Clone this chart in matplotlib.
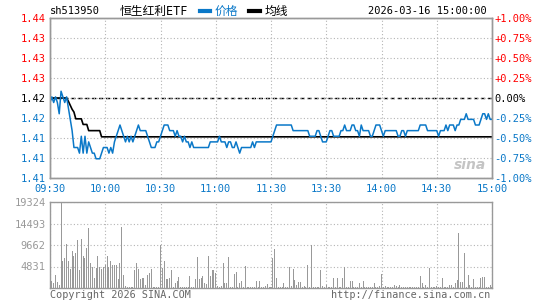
import matplotlib
matplotlib.use("Agg")
import matplotlib.pyplot as plt
from matplotlib.lines import Line2D

# ---------------------------
# Data
# ---------------------------

prev_close = 1.4218

# last price per minute, 09:30 .. 11:30 / 13:00 .. 15:00 (241 points)
price = [
    1.421, 1.422, 1.421, 1.422, 1.421, 1.419, 1.423, 1.422, 1.421, 1.422,
    1.420, 1.418, 1.416, 1.413, 1.413, 1.413, 1.412, 1.415, 1.412, 1.415,
    1.412, 1.414, 1.413, 1.412, 1.412, 1.411, 1.411, 1.411, 1.412, 1.413,
    1.413, 1.413, 1.412, 1.413, 1.412, 1.414, 1.415, 1.416, 1.417, 1.416,
    1.415, 1.414, 1.415, 1.414, 1.415, 1.414, 1.415, 1.416, 1.417, 1.416,
    1.416, 1.416, 1.416, 1.415, 1.414, 1.413, 1.413, 1.413, 1.414, 1.414,
    1.415, 1.416, 1.417, 1.417, 1.417, 1.416, 1.416, 1.416, 1.415, 1.416,
    1.415, 1.415, 1.414, 1.415, 1.414, 1.414, 1.413, 1.414, 1.413, 1.413,
    1.413, 1.413, 1.413, 1.413, 1.413, 1.413, 1.413, 1.414, 1.414, 1.414,
    1.414, 1.414, 1.415, 1.414, 1.414, 1.414, 1.413, 1.414, 1.414, 1.413,
    1.413, 1.414, 1.413, 1.412, 1.413, 1.413, 1.413, 1.413, 1.413, 1.413,
    1.414, 1.413, 1.414, 1.414, 1.414, 1.414, 1.414, 1.414, 1.414, 1.414,
    1.414, 1.415, 1.416, 1.417, 1.417, 1.417, 1.417, 1.417, 1.417, 1.417,
    1.417, 1.417, 1.416, 1.416, 1.416, 1.416, 1.416, 1.416, 1.416, 1.416,
    1.416, 1.415, 1.415, 1.415, 1.415, 1.416, 1.416, 1.415, 1.414, 1.414,
    1.414, 1.415, 1.416, 1.416, 1.415, 1.415, 1.415, 1.415, 1.416, 1.416,
    1.417, 1.416, 1.416, 1.416, 1.417, 1.417, 1.416, 1.416, 1.415, 1.417,
    1.416, 1.416, 1.416, 1.416, 1.415, 1.415, 1.416, 1.417, 1.417, 1.417,
    1.416, 1.415, 1.416, 1.416, 1.416, 1.416, 1.416, 1.416, 1.416, 1.415,
    1.415, 1.416, 1.416, 1.415, 1.416, 1.416, 1.416, 1.416, 1.416, 1.416,
    1.416, 1.417, 1.417, 1.417, 1.417, 1.416, 1.416, 1.416, 1.416, 1.416,
    1.416, 1.415, 1.416, 1.416, 1.416, 1.417, 1.416, 1.417, 1.417, 1.417,
    1.416, 1.417, 1.417, 1.418, 1.418, 1.418, 1.419, 1.418, 1.418, 1.418,
    1.418, 1.417, 1.417, 1.417, 1.418, 1.419, 1.419, 1.418, 1.419, 1.418,
    1.418,
]

# average price line
avg_price = [
    1.4214, 1.4218, 1.4218, 1.4218, 1.4218, 1.4218, 1.4218, 1.4218, 1.4218, 1.4218,
    1.4212, 1.4205, 1.4198, 1.4193, 1.4181, 1.4181, 1.4181, 1.4181, 1.4171, 1.4171,
    1.4171, 1.4160, 1.4160, 1.4160, 1.4160, 1.4160, 1.4160, 1.4160, 1.4149, 1.4149,
] + [1.4149] * 211

# volume per minute
volume = [
    2450, 1530, 1150, 2900, 1380, 770, 19324, 6130, 6670, 9815,
    6130, 4370, 8280, 7130, 7820, 10890, 3990, 11040, 7130, 6670,
    8970, 13420, 5520, 4830, 2150, 4600, 7280, 4830, 4220, 4830,
    5140, 7280, 4830, 6130, 5210, 5210, 5210, 1920, 5670, 13800,
    2900, 380, 300, 300, 300, 300, 3990, 5670, 4370, 1920,
    2300, 2300, 770, 2900, 3300, 4370, 200, 200, 200, 200,
    9580, 4600, 5980, 1920, 1920, 2150, 3990, 300, 1150, 1530,
    2450, 300, 300, 300, 300, 300, 2600, 300, 300, 1920,
    6900, 1920, 2150, 2600, 1150, 1000, 7280, 2600, 3990, 3990,
    3450, 380, 300, 500, 5670, 1150, 1150, 6900, 300, 300,
    3070, 3680, 300, 1150, 1530, 300, 4990, 200, 200, 200,
    200, 200, 1530, 300, 1530, 300, 300, 380, 1000, 300,
    300, 6670, 8740, 2300, 300, 300, 300, 1150, 300, 300,
    4750, 380, 4220, 1690, 770, 1380, 1380, 300, 380, 300,
    5210, 300, 9580, 200, 200, 300, 300, 3990, 500, 300,
    770, 300, 300, 300, 2150, 300, 2150, 300, 300, 2150,
    4750, 300, 300, 1530, 1530, 300, 300, 300, 1150, 300,
    1530, 300, 300, 300, 300, 300, 1150, 300, 300, 500,
    3220, 300, 380, 300, 300, 300, 300, 770, 500, 300,
    770, 300, 300, 300, 300, 300, 300, 300, 300, 300,
    300, 2680, 1150, 300, 770, 300, 4600, 300, 300, 300,
    500, 300, 300, 2150, 300, 300, 300, 770, 600, 300,
    1150, 1690, 12270, 1380, 1380, 7820, 300, 2900, 770, 300,
    1920, 300, 300, 300, 2150, 2450, 2450, 300, 300, 770,
    300,
]

minutes = list(range(len(price)))

time_ticks = [0, 30, 60, 90, 120, 150, 180, 210, 240]
time_labels = ["09:30", "10:00", "10:30", "11:00", "11:30",
               "13:30", "14:00", "14:30", "15:00"]

pct_levels = [-1.0, -0.75, -0.5, -0.25, 0.0, 0.25, 0.5, 0.75, 1.0]
vol_ticks = [4831, 9662, 14493, 19324]

# ---------------------------
# Styling
# ---------------------------

BLUE = "#0a78c8"
RED = "#ff0000"
GRID = "#b4b4b4"
FRAME = "#999999"
MONO = "DejaVu Sans Mono"
W, H = 545, 300


def box(left, top, right, bottom):
    return [left / W, 1 - bottom / H, (right - left) / W, (bottom - top) / H]


def fx(x):
    return x / W


def fy(y):
    return 1 - y / H


fig = plt.figure(figsize=(W / 100, H / 100), dpi=100)
fig.patch.set_facecolor("white")

# ---------------------------
# Price panel
# ---------------------------

ax = fig.add_axes(box(50, 18, 492, 178))
ax.plot(minutes, price, color=BLUE, lw=1.1, zorder=3)
ax.plot(minutes, avg_price, color="black", lw=1.2, zorder=2)
ax.axhline(prev_close, color="black", lw=1, ls=(0, (3, 2)), zorder=1)

levels = [prev_close * (1 + p / 100) for p in pct_levels]
ax.set_xlim(0, 240)
ax.set_ylim(levels[0], levels[-1])
ax.set_yticks(levels)
ax.set_yticklabels([f"{v:.2f}" for v in levels], family=MONO, fontsize=7.5)
for lab, p in zip(ax.get_yticklabels(), pct_levels):
    lab.set_color(RED if p > 0 else ("black" if p == 0 else BLUE))

ax.set_xticks(time_ticks)
ax.set_xticklabels(time_labels, family=MONO, fontsize=7.5, color=BLUE)
ax.tick_params(length=0, pad=3)
ax.tick_params(axis="x", pad=4)
ax.grid(True, color=GRID, ls=(0, (1, 2)), lw=0.8)

ax2 = ax.twinx()
ax2.set_ylim(levels[0], levels[-1])
ax2.set_yticks(levels)
ax2.set_yticklabels([("+" if p > 0 else "") + f"{p:.2f}%" for p in pct_levels],
                    family=MONO, fontsize=7.5)
for lab, p in zip(ax2.get_yticklabels(), pct_levels):
    lab.set_color(RED if p > 0 else ("black" if p == 0 else BLUE))
ax2.tick_params(length=0, pad=1.5)

for a in (ax, ax2):
    for s in a.spines.values():
        s.set_color(FRAME)
        s.set_linewidth(1)

# sina watermark
ax.text(0.95, 0.08, "sina", transform=ax.transAxes, ha="center", va="center",
        fontsize=10, fontstyle="italic", fontweight="bold", color="#c4c4c4", zorder=0)

# ---------------------------
# Volume panel
# ---------------------------

axv = fig.add_axes(box(50, 202, 492, 288))
axv.bar(minutes, volume, width=0.55, color="#999999", zorder=2)
axv.set_xlim(0, 240)
axv.set_ylim(0, vol_ticks[-1])
axv.set_yticks(vol_ticks)
axv.set_yticklabels([str(v) for v in vol_ticks], family=MONO, fontsize=7.5, color="#999999")
axv.set_xticks(time_ticks)
axv.set_xticklabels([])
axv.tick_params(length=0, pad=3)
axv.grid(True, color=GRID, ls=(0, (1, 2)), lw=0.8)
for s in axv.spines.values():
    s.set_color(FRAME)
    s.set_linewidth(1)

# ---------------------------
# Header and footer text
# ---------------------------

fig.text(fx(50), fy(11), "sh513950", family=MONO, fontsize=7.5, va="center")
fig.text(fx(120), fy(11), "恒生红利ETF", family=[MONO, "Noto Sans CJK SC"],
         fontsize=8.5, va="center")
fig.add_artist(Line2D([fx(200), fx(210)], [fy(11), fy(11)], color=BLUE, lw=3))
fig.text(fx(215), fy(11), "价格", family="Noto Sans CJK SC", fontsize=8.5,
         va="center", color=BLUE)
fig.add_artist(Line2D([fx(249), fx(260)], [fy(11), fy(11)], color="black", lw=3))
fig.text(fx(265), fy(11), "均线", family="Noto Sans CJK SC", fontsize=8.5, va="center")
fig.text(fx(487), fy(11), "2026-03-16 15:00:00", family=MONO, fontsize=7.5,
         va="center", ha="right")

fig.text(fx(50), fy(295), "Copyright 2026 SINA.COM", family=MONO, fontsize=7.3,
         va="center", color="#666666")
fig.text(fx(490), fy(295), "http://finance.sina.com.cn", family=MONO, fontsize=7.3,
         va="center", ha="right", color="#666666")

fig.savefig("out.png", dpi=100)
